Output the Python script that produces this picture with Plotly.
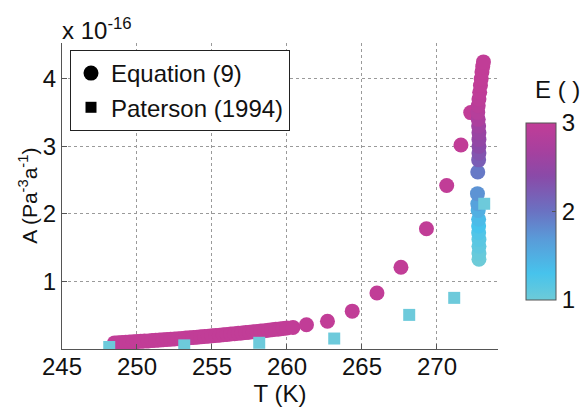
import plotly.graph_objects as go

# ---- data ----
# Equation (9): dense low-temperature band (E = 3)
T_band = [248.50, 248.75, 249.00, 249.25, 249.50, 249.75, 250.00, 250.25, 250.50, 250.75,
          251.00, 251.25, 251.50, 251.75, 252.00, 252.25, 252.50, 252.75, 253.00, 253.25,
          253.50, 253.75, 254.00, 254.25, 254.50, 254.75, 255.00, 255.25, 255.50, 255.75,
          256.00, 256.25, 256.50, 256.75, 257.00, 257.25, 257.50, 257.75, 258.00, 258.25,
          258.50, 258.75, 259.00, 259.25, 259.50, 259.75, 260.00]
A_band = [0.090, 0.093, 0.096, 0.099, 0.102, 0.106, 0.110, 0.113, 0.117, 0.120,
          0.124, 0.128, 0.132, 0.136, 0.140, 0.144, 0.148, 0.153, 0.157, 0.161,
          0.166, 0.170, 0.175, 0.180, 0.185, 0.190, 0.195, 0.200, 0.205, 0.210,
          0.215, 0.221, 0.226, 0.232, 0.237, 0.243, 0.249, 0.255, 0.260, 0.266,
          0.272, 0.278, 0.285, 0.291, 0.297, 0.304, 0.310]
E_band = [3.0] * len(T_band)

# Equation (9): sparse points toward the melting point (E = 3)
T_sparse = [260.40, 261.30, 262.70, 264.35, 266.00, 267.60, 269.30, 270.65, 271.60, 272.25]
A_sparse = [0.32, 0.36, 0.41, 0.56, 0.83, 1.21, 1.78, 2.42, 3.02, 3.50]
E_sparse = [3.0] * len(T_sparse)

# Equation (9): vertical cluster near 273 K with varying E
T_clus = [272.80, 272.80, 272.80, 272.80, 272.78, 272.78, 272.78, 272.75, 272.72, 272.70,
          272.72, 272.78, 272.80, 272.80, 272.80, 272.80, 272.78, 272.75, 272.72, 272.75,
          272.80, 272.85, 272.90, 272.95, 273.00, 273.05, 273.10]
A_clus = [1.33, 1.42, 1.52, 1.62, 1.72, 1.82, 1.92, 2.05, 2.15, 2.30,
          2.62, 2.80, 2.90, 3.00, 3.10, 3.20, 3.30, 3.40, 3.50, 3.60,
          3.70, 3.80, 3.90, 4.00, 4.10, 4.18, 4.25]
E_clus = [1.00, 1.05, 1.10, 1.15, 1.22, 1.30, 1.38, 1.50, 1.62, 1.75,
          1.95, 2.20, 2.30, 2.40, 2.48, 2.55, 2.62, 2.75, 2.85, 2.90,
          2.94, 2.97, 2.99, 3.00, 3.00, 3.00, 3.00]

# Paterson (1994)
T_pat = [248.15, 253.15, 258.15, 263.15, 268.15, 271.15, 273.15]
A_pat = [0.030, 0.054, 0.092, 0.155, 0.505, 0.757, 2.15]

x_ticks = [245, 250, 255, 260, 265, 270]
y_ticks = [1, 2, 3, 4]
cbar_ticks = [1, 2, 3]

T_eq = T_band + T_sparse + T_clus
A_eq = A_band + A_sparse + A_clus
E_eq = E_band + E_sparse + E_clus

cscale = [
    [0.00, "#6dcbd8"],
    [0.15, "#47c3ec"],
    [0.35, "#5a9ad8"],
    [0.50, "#6a72c2"],
    [0.70, "#8a4aa8"],
    [0.85, "#a8409e"],
    [1.00, "#c13d97"],
]

FONT = "Liberation Sans, Arial, sans-serif"
FS = 24
TXT = "#111111"
AX = "#555555"

L, R, T, B = 62, 498, 43, 349.5
PW, PH = R - L, B - T

fig = go.Figure()

fig.add_trace(go.Scatter(
    x=T_eq, y=A_eq, mode="markers", showlegend=False,
    marker=dict(symbol="circle", size=15, color=E_eq, colorscale=cscale,
                cmin=1, cmax=3, line=dict(width=0),
                showscale=True,
                colorbar=dict(
                    x=(526 - L) / PW, xanchor="left", xpad=0,
                    y=(B - 211.5) / PH, yanchor="middle", ypad=0,
                    len=177 / PH, lenmode="fraction",
                    thickness=30, thicknessmode="pixels",
                    outlinewidth=1, outlinecolor=AX,
                    tickvals=cbar_ticks, ticktext=[str(v) for v in cbar_ticks],
                    ticks="inside", ticklen=4, tickcolor=AX,
                    tickfont=dict(family=FONT, size=FS, color=TXT),
                ))))

fig.add_trace(go.Scatter(
    x=T_pat, y=A_pat, mode="markers", showlegend=False,
    marker=dict(symbol="square", size=12, color="#6dcadb", line=dict(width=0))))

# legend-only entries (black markers)
fig.add_trace(go.Scatter(x=[None], y=[None], mode="markers", name="Equation (9)",
                         marker=dict(symbol="circle", size=15, color="black")))
fig.add_trace(go.Scatter(x=[None], y=[None], mode="markers", name="Paterson (1994)",
                         marker=dict(symbol="square", size=11, color="black")))

axis_common = dict(
    showline=True, linecolor=AX, linewidth=1, mirror=False,
    ticks="inside", ticklen=5, tickcolor=AX,
    showgrid=True, gridcolor="#9a9a9a", griddash="dot", gridwidth=1,
    zeroline=False,
    tickfont=dict(family=FONT, size=FS, color=TXT),
)

fig.update_layout(
    width=581, height=409,
    margin=dict(l=L, r=581 - R, t=T, b=409 - B, autoexpand=False),
    paper_bgcolor="white", plot_bgcolor="white",
    font=dict(family=FONT, size=FS, color=TXT),
    xaxis=dict(range=[245, 274.07], tickvals=x_ticks, ticklabelstandoff=-4,
               title=dict(text="T (K)", font=dict(family=FONT, size=FS, color=TXT), standoff=3),
               **axis_common),
    yaxis=dict(range=[0, 4.53], tickvals=y_ticks,
               **axis_common),
    legend=dict(x=(70 - L) / PW, y=(B - 50) / PH, xanchor="left", yanchor="top",
                bgcolor="white", bordercolor="#222222", borderwidth=1,
                font=dict(family=FONT, size=FS, color=TXT),
                tracegroupgap=0, itemsizing="trace"),
    annotations=[
        dict(text="A (Pa<sup>-3</sup>a<sup>-1</sup>)", xref="paper", yref="paper",
             x=(28 - L) / PW, y=(B - 196) / PH, xanchor="center", yanchor="middle",
             textangle=-90, showarrow=False, font=dict(family=FONT, size=21, color=TXT)),
        dict(text="x 10<sup>-16</sup>", xref="paper", yref="paper",
             x=(60 - L) / PW, y=(B - 46) / PH, xanchor="left", yanchor="bottom",
             showarrow=False, font=dict(family=FONT, size=FS, color=TXT)),
        dict(text="E ( )", xref="paper", yref="paper",
             x=(533 - L) / PW, y=(B - 90) / PH, xanchor="left", yanchor="middle",
             showarrow=False, font=dict(family=FONT, size=FS, color=TXT)),
    ],
)

fig.write_html("out.html")
